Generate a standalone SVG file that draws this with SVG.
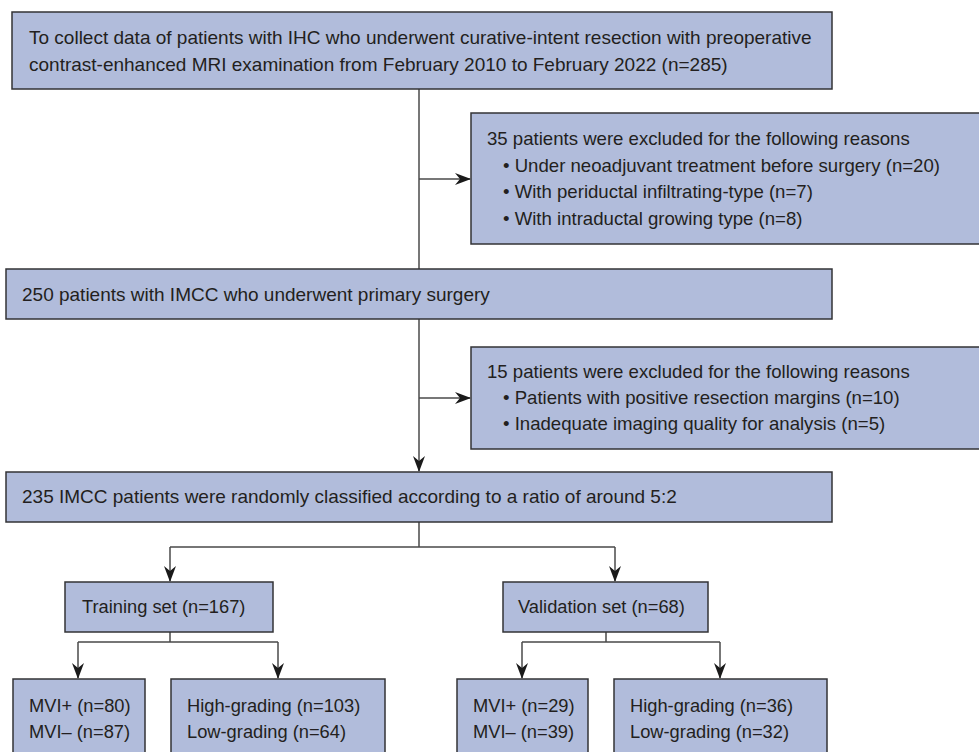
<svg xmlns="http://www.w3.org/2000/svg" width="979" height="752" viewBox="0 0 979 752">
<defs>
<style>
.box{fill:#b1bcdb;stroke:#333336;stroke-width:1.5}
.t{font-family:"Liberation Sans",Arial,sans-serif;font-size:19px;fill:#231f20}
.e{font-size:18.6px}
.s{font-size:18.3px}
.ln{fill:none;stroke:#4a4a4a;stroke-width:1.5}
</style>
<marker id="ah" viewBox="0 0 16 12" refX="15" refY="6" markerWidth="16" markerHeight="12" markerUnits="userSpaceOnUse" orient="auto">
<path d="M0,0 L16,6 L0,12 L5,6 Z" fill="#1a1a1a"/>
</marker>
</defs>
<rect width="979" height="752" fill="#fff"/>
<g id="connectors">
<path class="ln" d="M419,89 V471" marker-end="url(#ah)"/>
<path class="ln" d="M419,179 H470" marker-end="url(#ah)"/>
<path class="ln" d="M419,398 H470" marker-end="url(#ah)"/>
<path class="ln" d="M419,522 V547 M170,547 H615"/>
<path class="ln" d="M170,547 V581" marker-end="url(#ah)"/>
<path class="ln" d="M615,547 V581" marker-end="url(#ah)"/>
<path class="ln" d="M170,632 V642 M78,642 H278"/>
<path class="ln" d="M78,642 V678" marker-end="url(#ah)"/>
<path class="ln" d="M278,642 V678" marker-end="url(#ah)"/>
<path class="ln" d="M606,632 V642 M522,642 H720"/>
<path class="ln" d="M522,642 V678" marker-end="url(#ah)"/>
<path class="ln" d="M720,642 V678" marker-end="url(#ah)"/>
</g>
<g id="n1">
<rect class="box" x="12" y="12" width="820" height="77"/>
<text class="t" x="29" y="44">To collect data of patients with IHC who underwent curative-intent resection with preoperative</text>
<text class="t" x="29" y="71">contrast-enhanced MRI examination from February 2010 to February 2022 (n=285)</text>
</g>
<g id="n2">
<rect class="box" x="471" y="113" width="515" height="131"/>
<text class="t e" x="487" y="145">35 patients were excluded for the following reasons</text>
<text class="t e" x="503" y="172">• Under neoadjuvant treatment before surgery (n=20)</text>
<text class="t e" x="503" y="198">• With periductal infiltrating-type (n=7)</text>
<text class="t e" x="503" y="225">• With intraductal growing type (n=8)</text>
</g>
<g id="n3">
<rect class="box" x="6" y="269" width="826" height="50"/>
<text class="t" x="22" y="301">250 patients with IMCC who underwent primary surgery</text>
</g>
<g id="n4">
<rect class="box" x="471" y="347" width="515" height="102"/>
<text class="t e" x="487" y="378">15 patients were excluded for the following reasons</text>
<text class="t e" x="503" y="404">• Patients with positive resection margins (n=10)</text>
<text class="t e" x="503" y="430">• Inadequate imaging quality for analysis (n=5)</text>
</g>
<g id="n5">
<rect class="box" x="6" y="472" width="826" height="50"/>
<text class="t" x="22" y="503">235 IMCC patients were randomly classified according to a ratio of around 5:2</text>
</g>
<g id="n6">
<rect class="box" x="65" y="582" width="208" height="50"/>
<text class="t s" x="82" y="613">Training set (n=167)</text>
</g>
<g id="n7">
<rect class="box" x="503" y="582" width="205" height="50"/>
<text class="t s" x="518" y="613">Validation set (n=68)</text>
</g>
<g id="n8">
<rect class="box" x="13" y="679" width="132" height="100"/>
<text class="t s" x="29" y="712">MVI+ (n=80)</text>
<text class="t s" x="29" y="738">MVI– (n=87)</text>
</g>
<g id="n9">
<rect class="box" x="171" y="679" width="214" height="100"/>
<text class="t s" x="187" y="712">High-grading (n=103)</text>
<text class="t s" x="187" y="738">Low-grading (n=64)</text>
</g>
<g id="n10">
<rect class="box" x="457" y="679" width="131" height="100"/>
<text class="t s" x="473" y="712">MVI+ (n=29)</text>
<text class="t s" x="473" y="738">MVI– (n=39)</text>
</g>
<g id="n11">
<rect class="box" x="614" y="679" width="213" height="100"/>
<text class="t s" x="630" y="712">High-grading (n=36)</text>
<text class="t s" x="630" y="738">Low-grading (n=32)</text>
</g>
</svg>
